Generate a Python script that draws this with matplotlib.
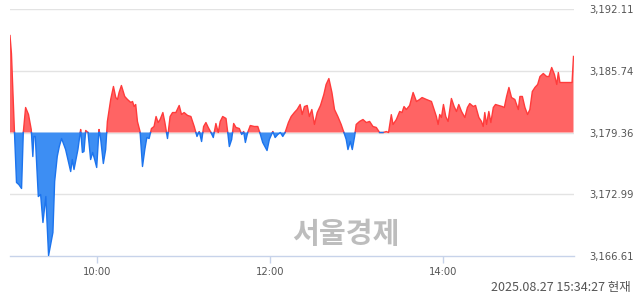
import numpy as np
import matplotlib
matplotlib.use("Agg")
import matplotlib.pyplot as plt

# minutes since 09:00
times = [0, 1.0, 3.1, 4.5, 6.1, 8.0, 9.2, 10.8, 12.8, 14.7, 15.8, 16.5, 17.5, 19.6, 21.2, 22.8, 24.8,
         26.7, 29.7, 30.9, 32.7, 34.1, 35.7, 38.5, 42.0, 43.1, 44.3, 47.0, 48.9, 50.1, 51.2, 52.4,
         54.0, 55.8, 57.2, 58.6, 60.0, 61.6, 62.8, 64.6, 66.2, 67.4, 69.7, 71.6, 73.2, 74.4, 75.5,
         77.1, 79.4, 81.3, 83.6, 84.8, 85.9, 87.0, 88.2, 90.0, 91.7, 93.3, 94.7, 96.3, 97.9, 99.7,
         101.1, 102.5, 103.9, 105.8, 107.2, 109.0, 110.8, 112.5, 114.8, 117.1, 118.7, 120.5, 122.9,
         125.2, 127.5, 129.4, 131.0, 132.6, 134.0, 135.6, 137.2, 139.1, 140.7, 142.5, 144.1, 145.5,
         147.2, 149.5, 150.7, 151.8, 153.4, 154.8, 156.4, 158.7, 160.4, 161.7, 162.9, 164.5, 166.3,
         169.1, 171.5, 173.3, 174.9, 177.9, 179.5, 181.9, 183.5, 185.3, 187.1, 188.8, 190.4, 192.7,
         194.6, 196.8, 198.7, 200.8, 202.2, 203.8, 205.7, 207.2, 208.9, 210.7, 212.6, 214.9, 217.2,
         218.8, 220.7, 222.8, 224.6, 226.9, 229.2, 231.1, 232.7, 233.9, 235.5, 236.9, 238.5, 239.6,
         241.9, 244.3, 246.6, 248.9, 251.2, 253.5, 255.8, 258.2, 260.5, 262.0, 263.9, 265.1, 267.4,
         269.7, 271.3, 272.7, 274.3, 276.6, 279.0, 281.3, 283.5, 285.2, 288.2, 291.7, 293.5, 295.1,
         296.3, 297.4, 298.6, 300.0, 301.6, 303.2, 305.5, 307.4, 309.0, 310.6, 312.5, 314.8, 316.6,
         318.2, 320.6, 322.2, 324.5, 326.3, 327.5, 328.6, 329.8, 331.4, 332.8, 334.5, 336.0, 338.3,
         340.7, 342.1, 343.7, 345.3, 347.1, 349.4, 351.8, 352.9, 354.6, 356.4, 358.2, 359.8, 361.5,
         363.3, 365.2, 366.8, 369.1, 371.4, 373.0, 374.9, 376.8, 378.4, 379.5, 380.6, 389.0, 390.0]

values = [3189.37, 3187.50, 3179.36, 3174.20, 3173.99, 3173.58, 3179.36, 3181.94, 3181.22, 3179.67,
          3176.88, 3178.95, 3178.95, 3172.75, 3172.96, 3170.07, 3172.75, 3166.66, 3169.04, 3174.30,
          3176.88, 3177.91, 3178.74, 3177.60, 3175.33, 3176.57, 3175.54, 3177.60, 3179.67, 3177.30,
          3177.40, 3179.57, 3179.36, 3176.57, 3177.30, 3176.57, 3175.75, 3179.67, 3178.64, 3176.16,
          3177.60, 3180.50, 3182.77, 3184.11, 3182.97, 3182.77, 3183.49, 3184.21, 3183.08, 3182.77,
          3182.46, 3182.56, 3182.04, 3182.25, 3180.50, 3179.46, 3175.85, 3177.60, 3178.84, 3178.74,
          3179.77, 3179.98, 3181.01, 3180.39, 3180.70, 3181.42, 3180.39, 3178.74, 3181.01, 3181.42,
          3181.42, 3182.15, 3181.22, 3181.42, 3181.12, 3181.01, 3179.98, 3178.95, 3179.46, 3178.43,
          3179.98, 3180.39, 3179.88, 3179.36, 3178.84, 3180.29, 3179.36, 3180.50, 3181.01, 3180.81,
          3179.36, 3177.91, 3178.64, 3180.29, 3179.88, 3179.77, 3179.15, 3179.46, 3178.33, 3179.36,
          3180.08, 3179.98, 3179.98, 3179.15, 3178.33, 3177.50, 3178.64, 3179.46, 3178.84, 3179.15,
          3179.36, 3178.95, 3179.36, 3180.39, 3181.01, 3181.42, 3181.73, 3182.25, 3181.22, 3182.04,
          3182.15, 3181.01, 3181.73, 3180.19, 3181.42, 3182.15, 3183.28, 3184.32, 3184.93, 3183.49,
          3181.73, 3181.01, 3180.19, 3179.36, 3178.64, 3177.60, 3178.43, 3177.60, 3178.95, 3180.19,
          3180.50, 3180.70, 3180.39, 3180.50, 3179.98, 3179.88, 3179.36, 3179.36, 3179.46, 3179.36,
          3181.20, 3180.19, 3180.70, 3181.53, 3181.42, 3182.04, 3181.73, 3182.15, 3183.49, 3182.56,
          3182.77, 3182.97, 3182.77, 3182.56, 3181.73, 3181.01, 3180.19, 3181.22, 3180.91, 3182.25,
          3181.01, 3180.50, 3182.87, 3182.04, 3181.53, 3182.25, 3181.53, 3180.91, 3181.94, 3182.35,
          3182.04, 3182.15, 3180.91, 3180.50, 3179.98, 3181.42, 3180.19, 3181.53, 3180.39, 3181.94,
          3182.25, 3182.15, 3182.04, 3181.94, 3183.08, 3184.01, 3182.97, 3182.77, 3181.73, 3183.08,
          3183.08, 3181.94, 3181.22, 3181.73, 3183.59, 3184.01, 3184.32, 3185.14, 3185.45, 3185.14,
          3185.14, 3186.07, 3185.35, 3184.32, 3185.55, 3184.52, 3184.52, 3187.21]

base = 3179.36
y_ticks = [3166.61, 3172.99, 3179.36, 3185.74, 3192.11]
y_tick_labels = ["3,166.61", "3,172.99", "3,179.36", "3,185.74", "3,192.11"]
x_ticks = [60, 180, 300]
x_tick_labels = ["10:00", "12:00", "14:00"]
stamp = "2025.08.27 15:34:27 현재"
watermark = "서울경제"

# insert crossing points with the baseline
t = np.array(times, dtype=float)
v = np.array(values, dtype=float)
tt, vv = [t[0]], [v[0]]
for i in range(1, len(t)):
    a, b = v[i - 1] - base, v[i] - base
    if a * b < 0:
        tc = t[i - 1] + (t[i] - t[i - 1]) * a / (a - b)
        tt.append(tc); vv.append(base)
    tt.append(t[i]); vv.append(v[i])
tt = np.array(tt); vv = np.array(vv)

W, H = 640, 294
fig = plt.figure(figsize=(W / 100, H / 100), dpi=100)
ax = fig.add_axes([10 / W, 38 / H, 563.5 / W, 247 / H])
ax.set_xlim(0, 390)
ax.set_ylim(y_ticks[0], y_ticks[-1])

red_fill, red_line = "#ff6464", "#ff3b3b"
blue_fill, blue_line = "#3d8ef3", "#1c74ee"

ax.fill_between(tt, vv, base, where=vv >= base, color=red_fill, lw=0, zorder=2)
ax.fill_between(tt, vv, base, where=vv <= base, color=blue_fill, lw=0, zorder=2)
up = np.where(vv >= base, vv, np.nan)
dn = np.where(vv <= base, vv, np.nan)
ax.plot(tt, up, color=red_line, lw=1.0, zorder=3)
ax.plot(tt, dn, color=blue_line, lw=1.0, zorder=3)

for yv in y_ticks[1:]:
    ax.axhline(yv, color="#e3e3e3", lw=1, zorder=1)

for s in ["top", "left", "right"]:
    ax.spines[s].set_visible(False)
ax.spines["bottom"].set_color("#c7d3ea")
ax.spines["bottom"].set_linewidth(1)

ax.set_yticks(y_ticks)
ax.set_yticklabels(y_tick_labels)
ax.yaxis.tick_right()
ax.tick_params(axis="y", length=0, pad=11, labelsize=7.2, labelcolor="#555555")
ax.set_xticks(x_ticks)
ax.set_xticklabels(x_tick_labels)
ax.tick_params(axis="x", length=5, width=1, color="#c7d3ea", pad=3, labelsize=7.2,
               labelcolor="#555555")

fig.text(346 / W, 1 - 233.5 / H, watermark, ha="center", va="center", fontsize=21,
         fontweight="bold", color="#bdbdbd", family=["Noto Sans CJK KR", "DejaVu Sans"])
fig.text(631 / W, 1 - 287 / H, stamp, ha="right", va="center", fontsize=9,
         color="#555555", family=["Noto Sans CJK KR", "DejaVu Sans"])

fig.savefig("out.png", dpi=100)
